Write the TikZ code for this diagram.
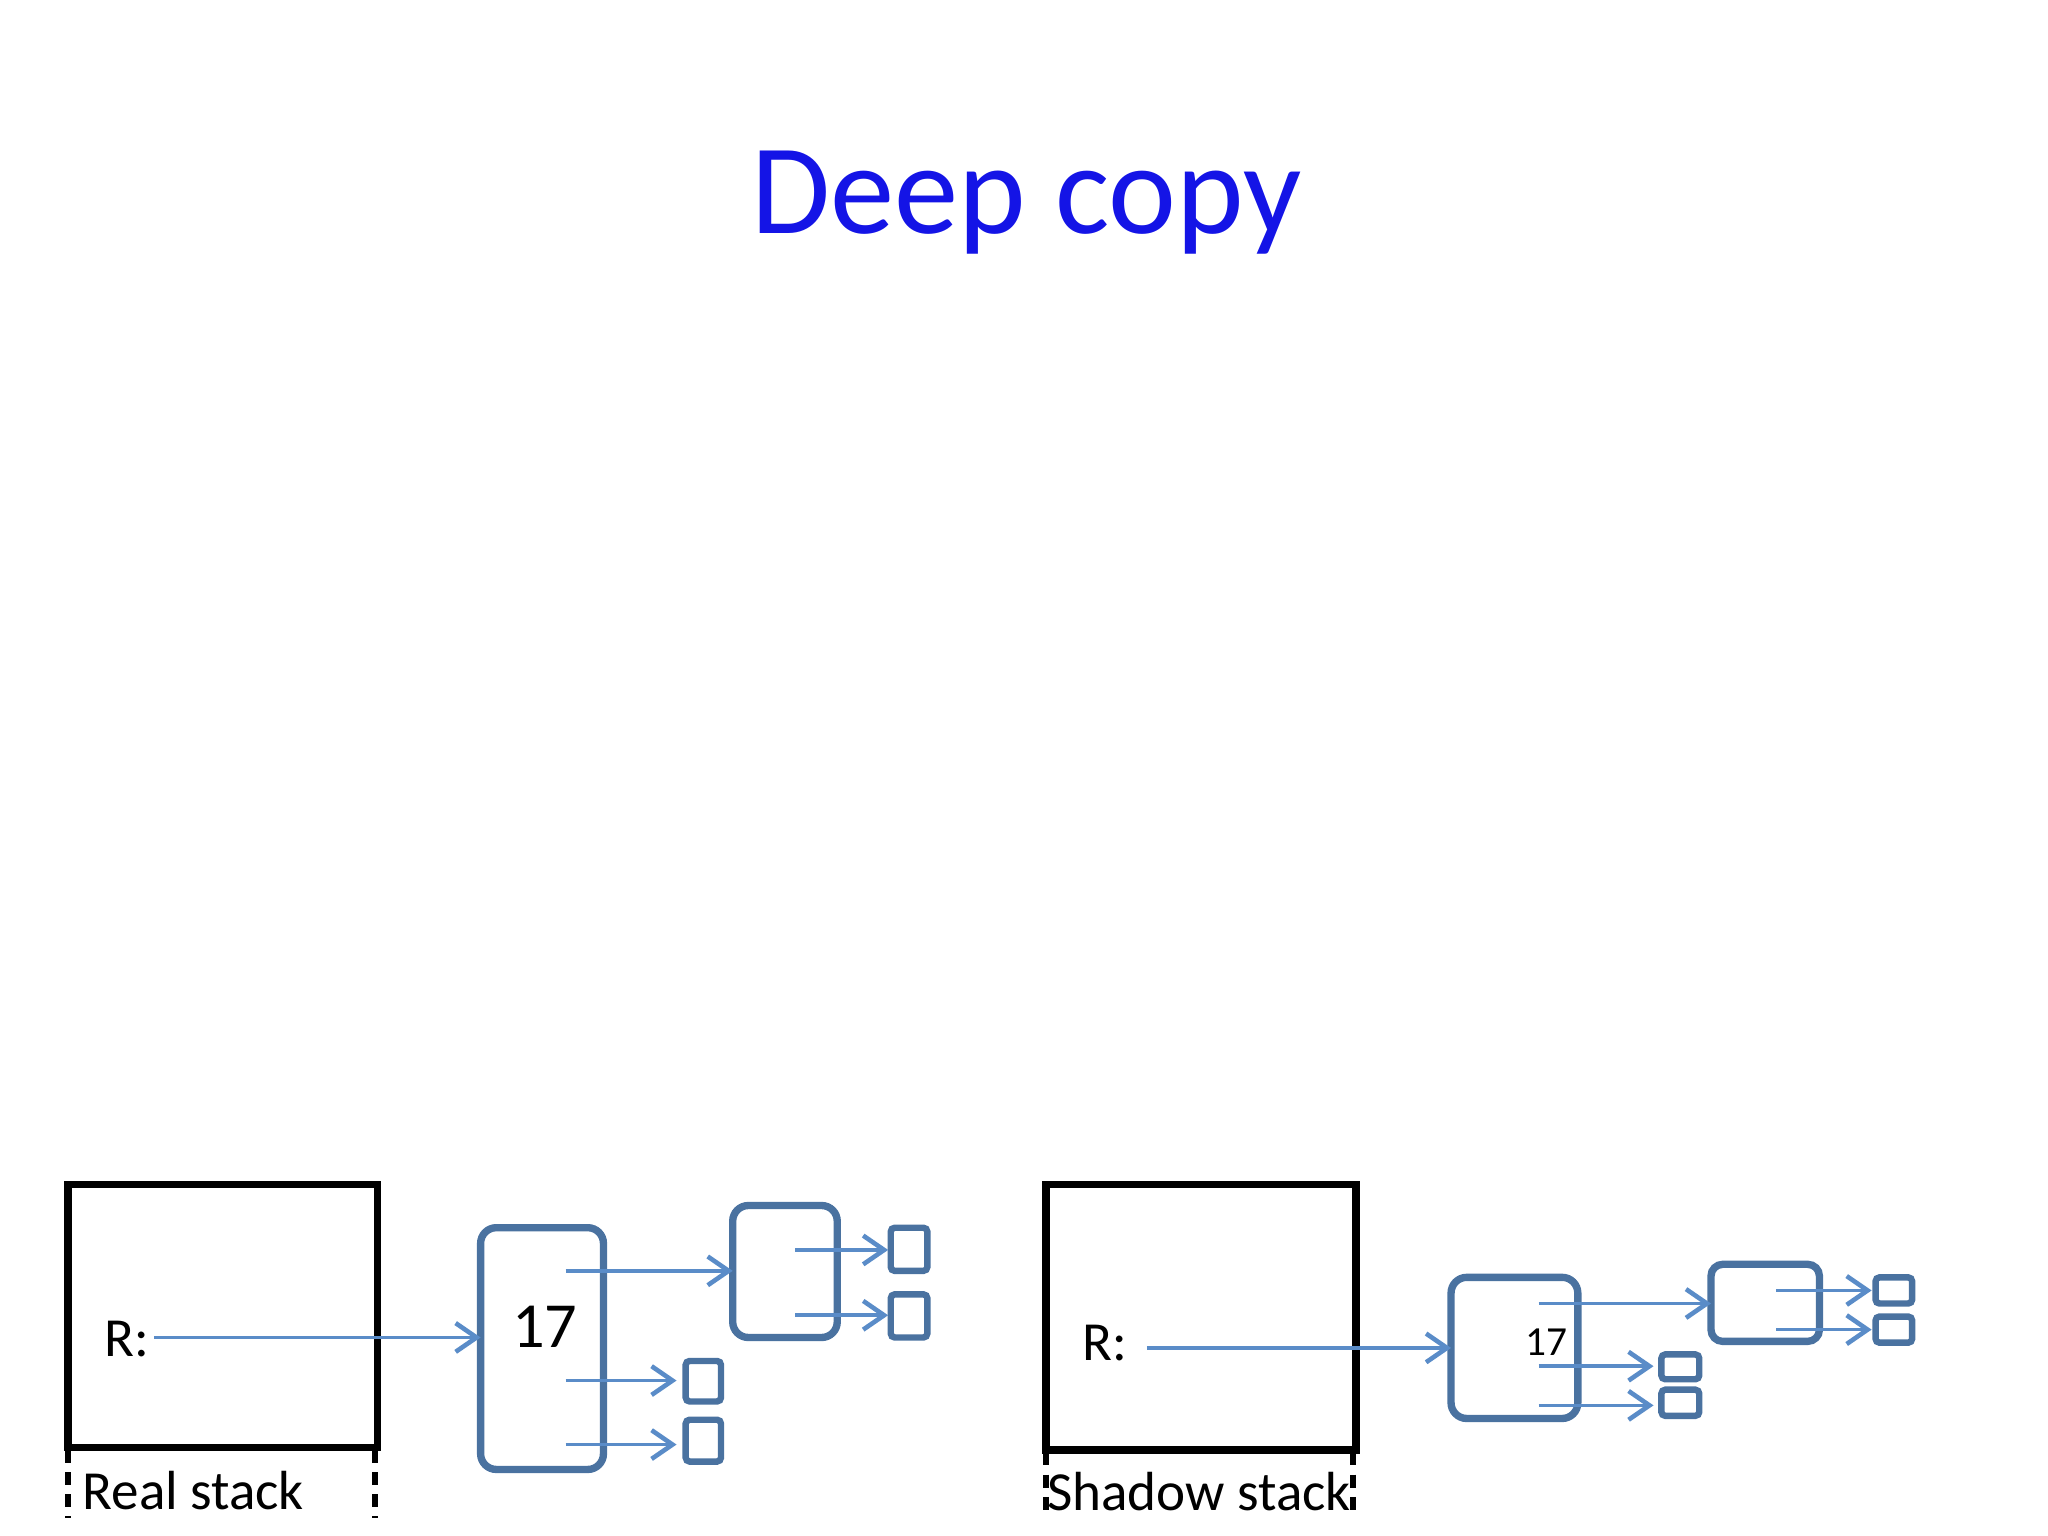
\documentclass[tikz,border=0pt]{standalone}
\usepackage{fontspec}
\setmainfont{Carlito}
\usetikzlibrary{arrows.meta}
\definecolor{tblue}{RGB}{20,20,230}
\definecolor{objc}{RGB}{74,114,160}
\definecolor{arrc}{RGB}{90,140,200}
\begin{document}
\begin{tikzpicture}[x=0.01cm,y=-0.01cm,
  stackbox/.style={draw=black,line width=1.6pt,inner sep=0,outer sep=0},
  obj/.style={draw=objc,line width=1.6pt,rounded corners=0.12cm,inner sep=0,outer sep=0},
  cell/.style={draw=objc,line width=1.4pt,rounded corners=0.03cm,inner sep=0,outer sep=0},
  ptr/.style={draw=arrc,line width=0.8pt,-{Straight Barb[length=0.16cm,width=0.22cm,line width=1pt]}},
  dsh/.style={draw=black,line width=1.4pt,dash pattern=on 0.1cm off 0.07cm}]
\useasboundingbox (0,0) rectangle (1568,1176);
\node[text=tblue,font=\fontsize{28pt}{30pt}\selectfont] (title) at (786,155) {Deep copy};
% left
\node[stackbox,minimum width=2.37cm,minimum height=2.01cm] (rs) at (170.5,1007.5) {};
\draw[dsh] (52,1110) -- (52,1162); \draw[dsh] (287,1110) -- (287,1162);
\node[font=\fontsize{12pt}{14pt}\selectfont] (rsl) at (148,1141) {Real stack};
\node[font=\fontsize{12pt}{14pt}\selectfont] (r1) at (97,1025) {R:};
\coordinate (r1s) at (118,1024);
\node[obj,minimum width=0.94cm,minimum height=1.85cm] (o1) at (415,1032.5) {};
\node[font=\fontsize{14pt}{16pt}\selectfont] (n1) at (417,1016) {17};
\draw[ptr] (r1s) -- (o1.west |- r1s);
\node[obj,minimum width=0.80cm,minimum height=1.01cm] (o2) at (601,973.5) {};
\node[cell,minimum width=0.27cm,minimum height=0.31cm] (c1) at (538.5,1057.5) {};
\node[cell,minimum width=0.27cm,minimum height=0.32cm] (c2) at (538.5,1103) {};
\node[cell,minimum width=0.28cm,minimum height=0.33cm] (c3) at (696,956.5) {};
\node[cell,minimum width=0.28cm,minimum height=0.33cm] (c4) at (696,1007.5) {};
\coordinate (a1) at (433,973); \coordinate (a2) at (433,1057); \coordinate (a3) at (433,1106);
\coordinate (a4) at (609,957); \coordinate (a5) at (609,1007);
\draw[ptr] (a1) -- (o2.west |- a1);
\draw[ptr] (a2) -- ([xshift=-0.07cm]c1.west |- a2);
\draw[ptr] (a3) -- ([xshift=-0.07cm]c2.west |- a3);
\draw[ptr] (a4) -- ([xshift=-0.02cm]c3.west |- a4);
\draw[ptr] (a5) -- ([xshift=-0.02cm]c4.west |- a5);
% right
\node[stackbox,minimum width=2.37cm,minimum height=2.03cm] (ss) at (919.5,1008.5) {};
\draw[dsh] (801,1112) -- (801,1162); \draw[dsh] (1036,1112) -- (1036,1162);
\node[font=\fontsize{12pt}{14pt}\selectfont] (ssl) at (918,1142) {Shadow stack};
\node[font=\fontsize{12pt}{14pt}\selectfont] (r2) at (846,1028) {R:};
\coordinate (r2s) at (878,1032);
\node[obj,minimum width=0.97cm,minimum height=1.08cm] (p1) at (1159.5,1032) {};
\node[font=\fontsize{9pt}{11pt}\selectfont] (n2) at (1184,1028) {17};
\draw[ptr] (r2s) -- (p1.west |- r2s);
\node[obj,rounded corners=0.09cm,minimum width=0.83cm,minimum height=0.59cm] (p2) at (1351.5,997.5) {};
\node[cell,minimum width=0.29cm,minimum height=0.19cm] (d1) at (1286.5,1046.5) {};
\node[cell,minimum width=0.29cm,minimum height=0.20cm] (d2) at (1286.5,1074) {};
\node[cell,minimum width=0.28cm,minimum height=0.20cm] (d3) at (1450,988) {};
\node[cell,minimum width=0.28cm,minimum height=0.20cm] (d4) at (1450,1018) {};
\coordinate (b1) at (1178,998); \coordinate (b2) at (1178,1046); \coordinate (b3) at (1178,1076);
\coordinate (b4) at (1360,988); \coordinate (b5) at (1360,1018);
\draw[ptr] (b1) -- (p2.west |- b1);
\draw[ptr] (b2) -- ([xshift=-0.06cm]d1.west |- b2);
\draw[ptr] (b3) -- ([xshift=-0.06cm]d2.west |- b3);
\draw[ptr] (b4) -- ([xshift=-0.03cm]d3.west |- b4);
\draw[ptr] (b5) -- ([xshift=-0.03cm]d4.west |- b5);
\end{tikzpicture}
\end{document}
